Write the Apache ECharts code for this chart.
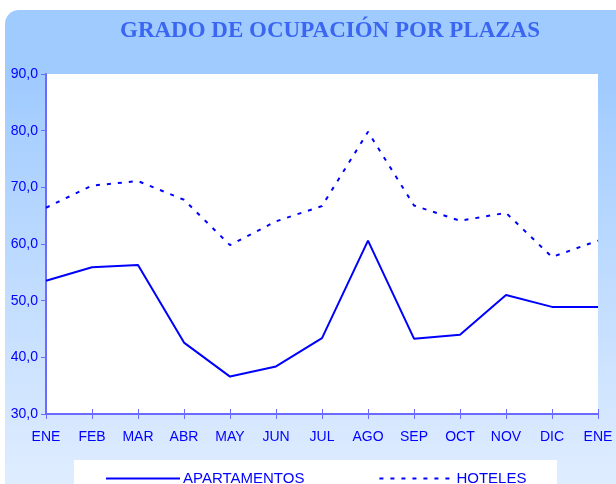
<!DOCTYPE html>
<html>
<head>
<meta charset="utf-8">
<script src="https://cdn.jsdelivr.net/npm/echarts@6/dist/echarts.min.js"></script>
<style>
    html, body { margin: 0; padding: 0; background: #fff; }
    #chart { width: 616px; height: 484px; }
</style>
</head>
<body>
<div id="chart"></div>
<script>
const months = ['ENE', 'FEB', 'MAR', 'ABR', 'MAY', 'JUN', 'JUL', 'AGO', 'SEP', 'OCT', 'NOV', 'DIC', 'ENE'];
const apartamentos = [53.5, 55.9, 56.3, 42.6, 36.6, 38.4, 43.4, 60.6, 43.3, 44.0, 51.0, 48.9, 48.9];
const hoteles = [66.4, 70.3, 71.1, 67.8, 59.8, 64.0, 66.7, 79.8, 66.8, 64.1, 65.5, 57.7, 60.6];

const blue = '#0000ff';
const axisColor = '#6b6bff';

const chart = echarts.init(document.getElementById('chart'));

const option = {
    backgroundColor: '#fff',
    animation: false,
    graphic: [
        {
            type: 'rect',
            z: -10,
            shape: { x: 5, y: 10, width: 640, height: 490, r: 14 },
            style: {
                fill: new echarts.graphic.LinearGradient(0, 0, 0, 1, [
                    { offset: 0, color: '#a0cbff' },
                    { offset: 0.14, color: '#a0cbff' },
                    { offset: 1, color: '#e2eeff' },
                ]),
            },
        },
        {
            type: 'rect',
            z: -9,
            shape: { x: 46, y: 74, width: 552, height: 340 },
            style: { fill: '#fff' },
        },
        {
            type: 'rect',
            z: -9,
            shape: { x: 74, y: 460, width: 483, height: 30 },
            style: { fill: '#fff' },
        },
    ],
    title: {
        text: 'GRADO DE OCUPACIÓN POR PLAZAS',
        left: 325,
        top: 15,
        textAlign: 'center',
        textStyle: {
            fontFamily: 'Liberation Serif',
            fontWeight: 'bold',
            fontSize: 23,
            color: '#3a66f2',
        },
    },
    legend: {
        left: 100,
        top: 466,
        itemWidth: 74,
        itemHeight: 12,
        itemGap: 74,
        itemStyle: { opacity: 0 },
        textStyle: {
            fontFamily: 'Liberation Sans',
            fontSize: 15,
            color: blue,
            padding: [0, 0, 0, -2],
        },
        data: ['APARTAMENTOS', 'HOTELES'],
    },
    grid: {
        left: 46,
        right: 18,
        top: 74,
        bottom: 70,
    },
    xAxis: [
        {
            type: 'category',
            boundaryGap: false,
            data: months,
            axisLine: { lineStyle: { color: axisColor, width: 2 } },
            axisTick: { show: true, length: 5, lineStyle: { color: axisColor } },
            axisLabel: {
                margin: 16,
                fontFamily: 'Liberation Sans',
                fontSize: 14,
                color: blue,
            },
        },
        {
            type: 'category',
            position: 'bottom',
            boundaryGap: false,
            data: months,
            axisLine: { show: false },
            axisTick: { show: true, inside: true, length: 5, lineStyle: { color: axisColor } },
            axisLabel: { show: false },
        },
    ],
    yAxis: {
        type: 'value',
        min: 30,
        max: 90,
        interval: 10,
        splitLine: { show: false },
        axisLine: { show: true, lineStyle: { color: axisColor, width: 2 } },
        axisTick: { show: true, length: 5, lineStyle: { color: axisColor } },
        axisLabel: {
            margin: 8,
            fontFamily: 'Liberation Sans',
            fontSize: 14,
            color: blue,
            formatter: v => v.toFixed(1).replace('.', ','),
        },
    },
    series: [
        {
            name: 'APARTAMENTOS',
            type: 'line',
            data: apartamentos,
            symbol: 'none',
            lineStyle: { color: blue, width: 2 },
            itemStyle: { color: blue },
        },
        {
            name: 'HOTELES',
            type: 'line',
            data: hoteles,
            symbol: 'none',
            lineStyle: { color: blue, width: 2, type: [4, 7] },
            itemStyle: { color: blue },
        },
    ],
};

chart.setOption(option);
</script>
</body>
</html>
